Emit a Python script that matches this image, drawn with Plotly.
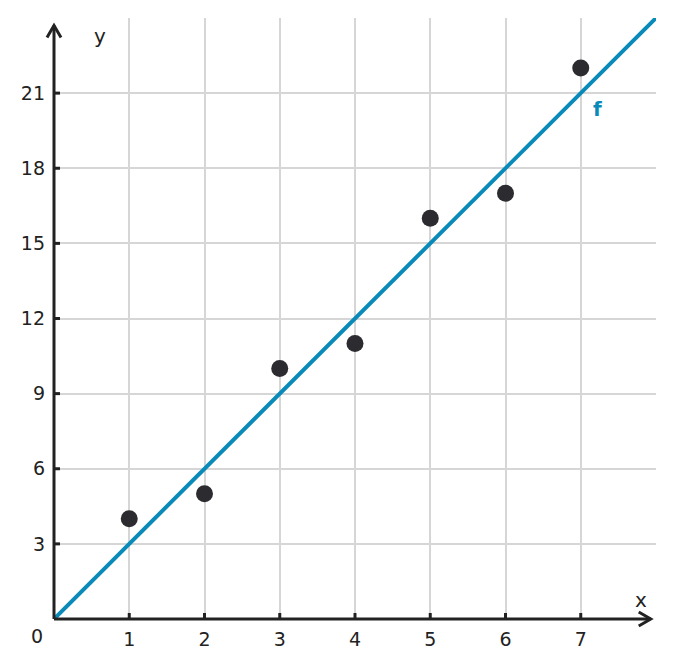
import plotly.graph_objects as go

# Data
x_points = [1, 2, 3, 4, 5, 6, 7]
y_points = [4, 5, 10, 11, 16, 17, 22]
line_x = [0, 8]
line_y = [0, 24]
x_ticks = [1, 2, 3, 4, 5, 6, 7]
y_ticks = [3, 6, 9, 12, 15, 18, 21]
X_MAX = 8
Y_MAX = 24

BLUE = "#0a8ab8"
DARK = "#2b2b30"
AXIS = "#222222"
GRID = "#d6d6d6"
FONT = "DejaVu Sans"

fig = go.Figure()

fig.add_trace(go.Scatter(x=line_x, y=line_y, mode="lines",
                         line=dict(color=BLUE, width=4),
                         hoverinfo="skip", showlegend=False, cliponaxis=False))
fig.add_trace(go.Scatter(x=x_points, y=y_points, mode="markers",
                         marker=dict(color=DARK, size=17),
                         showlegend=False, cliponaxis=False))

shapes = []
x_tip = 7.93 / X_MAX
y_tip = 23.7 / Y_MAX
# axis lines (paper refs so they are not clipped)
shapes.append(dict(type="line", xref="paper", yref="paper", x0=0, y0=0, x1=x_tip, y1=0,
                   line=dict(color=AXIS, width=3), layer="above"))
shapes.append(dict(type="line", xref="paper", yref="paper", x0=0, y0=0, x1=0, y1=y_tip,
                   line=dict(color=AXIS, width=3), layer="above"))
# arrow heads (chevrons)
shapes.append(dict(type="path", xref="paper", yref="paper", xsizemode="pixel", ysizemode="pixel",
                   xanchor=x_tip, yanchor=0,
                   path="M -12 7 L 0 0 L -12 -7",
                   line=dict(color=AXIS, width=3), layer="above"))
shapes.append(dict(type="path", xref="paper", yref="paper", xsizemode="pixel", ysizemode="pixel",
                   xanchor=0, yanchor=y_tip,
                   path="M -7 -12 L 0 0 L 7 -12",
                   line=dict(color=AXIS, width=3), layer="above"))
# small tick marks
for t in x_ticks:
    shapes.append(dict(type="path", xref="paper", yref="paper", xsizemode="pixel", ysizemode="pixel",
                       xanchor=t / X_MAX, yanchor=0, path="M 0 0 L 0 6",
                       line=dict(color=AXIS, width=3), layer="above"))
for t in y_ticks:
    shapes.append(dict(type="path", xref="paper", yref="paper", xsizemode="pixel", ysizemode="pixel",
                       xanchor=0, yanchor=t / Y_MAX, path="M 0 0 L 6 0",
                       line=dict(color=AXIS, width=3), layer="above"))

annotations = [
    dict(x=0, y=0, xref="x", yref="y", text="0", showarrow=False,
         xshift=-17, yshift=-17, font=dict(family=FONT, size=19, color=AXIS)),
    dict(x=0, y=24, xref="x", yref="y", text="y", showarrow=False,
         xshift=46, yshift=-18, font=dict(family=FONT, size=20, color=AXIS)),
    dict(x=8, y=0, xref="x", yref="y", text="x", showarrow=False,
         xshift=-15, yshift=19, font=dict(family=FONT, size=20, color=AXIS)),
    dict(x=7, y=21, xref="x", yref="y", text="<b>f</b>", showarrow=False,
         xshift=17, yshift=-16, font=dict(family=FONT, size=20, color=BLUE)),
]

fig.update_layout(
    width=658, height=652,
    margin=dict(l=46, r=10, t=10, b=41),
    paper_bgcolor="white", plot_bgcolor="white",
    shapes=shapes, annotations=annotations,
    xaxis=dict(range=[0, X_MAX], tickvals=x_ticks, ticktext=[str(v) for v in x_ticks],
               showgrid=True, gridcolor=GRID, gridwidth=2, zeroline=False,
               showline=False, ticks="", ticklabelstandoff=7,
               tickfont=dict(family=FONT, size=19, color=AXIS), fixedrange=True),
    yaxis=dict(range=[0, Y_MAX], tickvals=[0] + y_ticks, ticktext=[""] + [str(v) for v in y_ticks],
               showgrid=True, gridcolor=GRID, gridwidth=2, zeroline=False,
               showline=False, ticks="", ticklabelstandoff=8,
               tickfont=dict(family=FONT, size=19, color=AXIS), fixedrange=True),
)

fig.write_html("out.html")
